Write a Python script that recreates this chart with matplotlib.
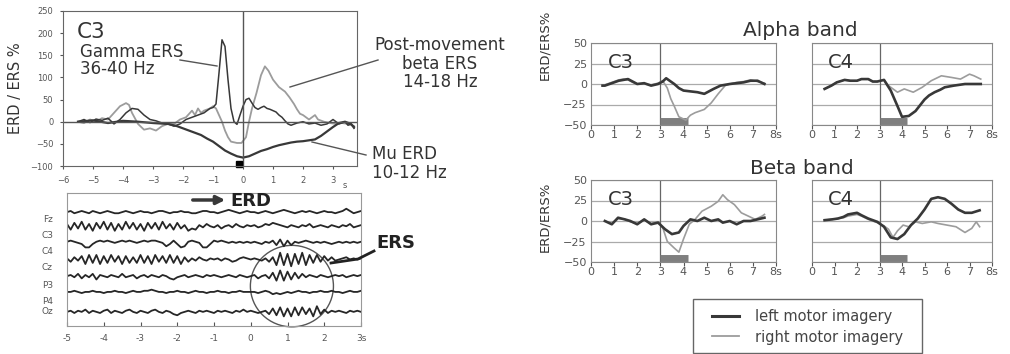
import numpy as np
import matplotlib.pyplot as plt
from matplotlib.patches import Ellipse, Rectangle
from matplotlib.lines import Line2D

W, H = 1010, 354
plt.rcParams['font.family'] = 'DejaVu Sans'

DARK = '#383838'
LIGHT = '#9c9c9c'
TXT = '#333333'
TICK = '#555555'

# ---- top left: ERD/ERS time courses at C3 ----
gamma_t = [-5.5, -5.3, -5.1, -4.9, -4.7, -4.5, -4.3, -4.1, -3.9, -3.7, -3.5, -3.3, -3.1, -2.9, -2.7, -2.5,
           -2.3, -2.1, -1.9, -1.7, -1.5, -1.3, -1.1, -1.0, -0.9, -0.8, -0.7, -0.6, -0.5, -0.4, -0.3, -0.2,
           -0.1, 0.0, 0.1, 0.2, 0.3, 0.4, 0.5, 0.6, 0.7, 0.8, 0.9, 1.0, 1.1, 1.2, 1.3, 1.4, 1.5, 1.6,
           1.8, 2.0, 2.2, 2.4, 2.6, 2.8, 3.0, 3.2, 3.4, 3.5, 3.6, 3.7]
gamma_v = [0, 5, -2, 6, 3, 8, -5, 5, 20, 30, 28, 15, 5, 2, -3, -5,
           -10, -5, 5, 10, 15, 20, 30, 32, 40, 110, 185, 170, 95, 30, 0, -6,
           15, 35, 50, 53, 42, 32, 28, 32, 35, 30, 28, 25, 22, 15, 10, 2, -5, -8,
           -3, 0, -5, -3, -8, -5, 5, -5, 0, -8, -5, -15]

beta_t = [-5.5, -5.3, -5.1, -4.9, -4.7, -4.5, -4.3, -4.1, -3.9, -3.8, -3.7, -3.5, -3.3, -3.1, -2.9, -2.7,
          -2.5, -2.3, -2.1, -1.9, -1.7, -1.6, -1.5, -1.4, -1.3, -1.1, -1.0, -0.9, -0.8, -0.7, -0.6, -0.5,
          -0.4, -0.2, -0.05, 0.1, 0.2, 0.3, 0.45, 0.6, 0.73, 0.85, 1.0, 1.2, 1.4, 1.55, 1.7, 1.8, 1.9,
          2.0, 2.2, 2.4, 2.5, 2.7, 2.9, 3.1, 3.3, 3.5, 3.7]
beta_v = [0, -3, 5, 0, 8, 5, 20, 35, 42, 38, 20, -5, -18, -15, -20, -10,
          -5, -5, 5, 10, 25, 15, 30, 20, 25, 30, 35, 30, 15, 0, -20, -35,
          -45, -48, -48, -35, 0, 30, 65, 105, 125, 115, 95, 78, 68, 55, 40, 28, 18,
          15, 5, 15, 5, 0, -3, -5, -3, -5, -10]

mu_t = [-5.5, -5.0, -4.5, -4.0, -3.5, -3.0, -2.5, -2.2, -2.0, -1.8, -1.6, -1.4, -1.2, -1.0, -0.8, -0.6,
        -0.4, -0.2, 0.0, 0.2, 0.4, 0.6, 0.8, 1.0, 1.2, 1.4, 1.6, 1.8, 2.0, 2.2, 2.4, 2.6, 2.8, 3.0,
        3.2, 3.4, 3.6, 3.7]
mu_v = [0, 3, -3, 2, 0, -3, -5, -10, -15, -20, -25, -30, -38, -45, -55, -65,
        -72, -78, -81, -78, -72, -66, -62, -57, -53, -50, -47, -45, -44, -42, -40, -32, -22, -12,
        -3, 0, -5, -12]

# ---- bottom left: raw EEG, one sample every 0.1 s from -5 to 3 s ----
channels = ['Fz', 'C3', 'C4', 'Cz', 'P3', 'P4', 'Oz']
eeg = {
    'Fz': [0, 1, -1, 0, 1, 0, -1, 1, 0, -1, 0, 1, 0, -1, -1, 0, 1, 0, -1, 0, 1, 0, 0, -1, 0, 1, 1, 0, -1, 0,
           0, 1, 0, 0, -1, -1, 0, 1, 1, 0, 0, -1, 0, 1, 2, 1, 0, -1, 0, 1, 0, 0, -1, 0, 1, 0, -1, 0, 1, 2,
           1, 0, -1, 0, 1, 0, 1, 0, -1, 0, 1, 0, 0, -1, 0, 1, 3, 1, -1, 0, 1],
    'C3': [2, -3, 3, -2, 4, -3, 2, -4, 3, -2, 4, -3, 3, -4, 2, -3, 4, -2, 3, -3, 2, -4, 3, -2, 3, -3, 4, -2, 2, -3,
           3, -2, 1, -4, -2, -3, 1, -1, 2, 0, -1, 1, -2, 0, 1, -1, 2, 0, -1, 1, 0, 1, -1, 0, 2, 1, 3, 2, 1, 0,
           -1, 1, 0, -1, 1, 0, 2, -1, 0, 1, 0, -1, 1, 0, -1, 1, 0, 2, -1, 0, 1],
    'C4': [1, 2, 1, 0, -1, -4, -4, -1, 1, 2, 1, 2, 1, 0, 1, 2, 1, 2, 1, 0, 1, 2, 1, 2, 2, 1, 0, -3, -1, 2,
           -1, -4, -3, 1, 2, 1, 0, -4, -4, -1, 2, 1, 2, 1, 0, 1, 0, 1, 0, 1, 0, 1, 0, -1, 1, 0, 2, -2, 3, -3,
           2, -2, 1, 0, 1, 2, 1, 0, 1, 0, 1, 0, -1, 0, 1, 0, 1, 0, 1, 0, 1],
    'Cz': [1, -2, 2, -1, 3, -4, 4, -3, 4, -4, 3, -3, 4, -2, 3, -4, 3, -3, 2, -3, 4, -3, 3, -4, 4, -2, 3, -3, 4, -3,
           3, -4, 2, -2, 1, -1, 2, 0, -1, 1, 0, 1, -1, 1, 0, -2, -1, 1, 2, 1, 0, 1, 0, -1, 1, -2, 2, -5, 6, -5,
           5, -6, 5, -4, 6, -5, 4, -3, 4, -2, 3, -1, 2, -1, 0, 1, 2, 0, 1, 0, 1],
    'P3': [0, 1, -1, 2, -2, 1, -1, 2, -3, 1, 0, -1, 1, 0, -1, 2, -1, 0, 1, -2, 0, 1, -1, 1, 0, -1, 1, 0, -2, -3,
           -1, 0, 1, -1, 0, 1, 0, -1, 1, 0, 1, 0, -1, 0, 1, 0, -1, 1, 0, -1, 0, 1, -2, 0, 1, -2, 3, -4, 5, -4,
           4, -3, 3, -2, 2, -1, 1, 0, -1, 1, 0, -1, 0, 1, 0, 1, -1, 0, 1, 0, 1],
    'P4': [0, 0, 1, 0, -1, 0, 0, 1, 0, 0, -1, 0, 0, 1, 0, 0, -1, 0, 1, 0, 0, 1, 1, 2, 1, 0, 0, -1, 0, 0,
           1, 0, 0, -1, 0, 1, 0, 0, -1, 0, 0, 1, 0, 0, -1, 0, 0, 1, 0, 0, 0, 0, -1, 0, 1, 0, -2, -1, -2, -1,
           0, -1, 0, 1, 0, 0, -1, 0, 0, 1, 0, 0, 1, 0, 0, -1, 0, 1, 0, 0, 1],
    'Oz': [0, 1, -1, 1, 0, 2, -1, 1, 0, -1, 1, 2, -1, 1, 0, -1, 1, 2, 0, -1, 1, 0, -1, 1, 2, 0, -1, 1, 0, -2,
           -3, -1, 0, 1, 0, -1, 1, 0, 1, 0, -1, 1, 0, 1, 0, -1, 1, 0, 2, 0, 1, 0, -1, 0, 1, -2, 3, -3, 4, -4,
           3, -4, 4, -3, 4, -2, 3, -4, 5, -2, 2, -1, 1, 0, 1, 0, -1, 1, 0, 1, 0],
}
eeg_t = np.linspace(-5, 3, 81)

# ---- right: band power time courses (left / right motor imagery) ----
ac3_l_t = [0.5, 0.6, 0.8, 1.0, 1.2, 1.4, 1.6, 1.8, 2.0, 2.3, 2.6, 2.9, 3.1, 3.25, 3.4, 3.6, 3.8, 4.0, 4.3, 4.6,
           4.9, 5.1, 5.3, 5.6, 6.0, 6.3, 6.6, 6.9, 7.2, 7.5]
ac3_l_v = [-2, -2, 0, 2, 4, 5, 6, 3, 0, 1, -2, 0, 3, 7, 4, 0, -5, -8, -9, -10, -12, -9, -6, -2, 0, 1, 2, 4, 4, 0]
ac3_r_t = [0.5, 0.6, 0.8, 1.0, 1.2, 1.4, 1.6, 1.8, 2.0, 2.3, 2.6, 2.9, 3.1, 3.3, 3.45, 3.6, 3.8, 4.1, 4.3, 4.5,
           4.7, 4.9, 5.2, 5.5, 5.8, 6.0, 6.3, 6.6, 6.9, 7.2, 7.5]
ac3_r_v = [-2, -1, 1, 3, 5, 6, 5, 2, 0, 0, -1, 1, 4, -5, -18, -27, -40, -44, -38, -35,
           -33, -31, -23, -12, -2, 0, 2, 3, 5, 3, 1]

ac4_l_t = [0.56, 0.86, 1.1, 1.45, 1.7, 2.0, 2.2, 2.5, 2.7, 2.9, 3.2, 3.5, 3.8, 4.0, 4.3, 4.6, 5.0, 5.2, 5.45,
           5.7, 5.9, 6.3, 6.8, 7.1, 7.5]
ac4_l_v = [-6, -2, 2, 5, 4, 4, 6, 6, 3, 3, 5, -8, -27, -40, -39, -33, -19, -14, -10, -7, -4, -2, 0, 0, 0]
ac4_r_t = [0.56, 0.86, 1.1, 1.45, 1.7, 2.0, 2.2, 2.5, 2.7, 2.9, 3.2, 3.4, 3.6, 3.8, 4.1, 4.3, 4.5, 4.9, 5.3,
           5.75, 6.2, 6.6, 7.0, 7.2, 7.5]
ac4_r_v = [-6, -2, 2, 5, 4, 4, 6, 6, 3, 3, 5, -2, -6, -10, -6, -8, -10, -4, 4, 10, 8, 6, 12, 10, 6]

bc3_l_t = [0.6, 0.9, 1.17, 1.46, 1.7, 2.0, 2.3, 2.6, 2.9, 3.2, 3.5, 3.8, 4.0, 4.3, 4.6, 4.9, 5.2, 5.5, 5.7,
           6.0, 6.3, 6.6, 6.9, 7.2, 7.5]
bc3_l_v = [0, -4, 4, 2, 0, -4, 2, -4, -2, -10, -16, -14, -6, 2, 0, 4, 0, 2, -2, 0, -4, 0, 0, 2, 4]
bc3_r_t = [0.6, 0.9, 1.17, 1.46, 1.7, 2.0, 2.3, 2.6, 2.9, 3.1, 3.3, 3.6, 3.8, 4.0, 4.25, 4.5, 4.8, 5.2, 5.5,
           5.7, 5.9, 6.2, 6.5, 6.8, 7.1, 7.4, 7.5]
bc3_r_v = [0, -3, 3, 2, -1, -3, 1, -3, -1, -8, -25, -33, -38, -22, -4, 2, 12, 18, 24, 32, 26, 20, 10, 6, 2, 6, 8]

bc4_l_t = [0.56, 0.9, 1.15, 1.4, 1.6, 2.0, 2.2, 2.5, 2.9, 3.2, 3.5, 3.8, 4.1, 4.4, 4.7, 5.0, 5.3, 5.6, 5.9,
           6.2, 6.5, 6.8, 7.1, 7.45]
bc4_l_v = [1, 2, 3, 5, 8, 10, 7, 3, -1, -7, -20, -22, -16, -5, 3, 14, 27, 29, 27, 21, 14, 10, 10, 13]
bc4_r_t = [0.56, 0.9, 1.15, 1.4, 1.6, 2.0, 2.2, 2.5, 2.9, 3.2, 3.4, 3.6, 3.8, 4.05, 4.3, 4.6, 4.9, 5.3, 5.6,
           6.0, 6.4, 6.8, 7.1, 7.3, 7.45]
bc4_r_v = [1, 2, 3, 4, 6, 8, 6, 2, -2, -6, -10, -20, -12, -5, -7, -1, -3, -1, -3, -5, -7, -14, -9, -1, -7]

cue_start, cue_end = 3, 4.2
band_xticklabels = ['0', '1', '2', '3', '4', '5', '6', '7', '8s']


def px_axes(fig, l, t, r, b):
    return fig.add_axes([l / W, 1 - b / H, (r - l) / W, (b - t) / H])


fig = plt.figure(figsize=(W / 100, H / 100), dpi=100)

# top left panel
ax = px_axes(fig, 63, 11, 357, 166)
ax.set_xlim(-6, 3.8)
ax.set_ylim(-100, 250)
ax.plot(beta_t, beta_v, color=LIGHT, lw=1.3)
ax.plot(gamma_t, gamma_v, color=DARK, lw=1.1)
ax.plot(mu_t, mu_v, color=DARK, lw=1.6)
ax.axhline(0, color='#555', lw=1)
ax.axvline(0, color='#555', lw=1)
ax.plot([-0.13], [-96], marker='s', ms=5, color='k', clip_on=False)
ax.set_xticks(range(-6, 4))
ax.set_yticks(range(-100, 251, 50))
ax.tick_params(labelsize=6, colors=TICK, length=2, pad=5)
ax.set_ylabel('ERD / ERS %', fontsize=10.5, color=TXT)
ax.yaxis.set_label_coords(-0.135, 0.5)
for s in ax.spines.values():
    s.set_color('#666')

# EEG panel
ax2 = px_axes(fig, 67, 193, 361, 326)
ax2.set_xlim(-5, 3)
ax2.set_ylim(0, 8)
baselines = [6.85, 6.0, 5.0, 4.0, 3.0, 2.05, 0.85]
for ch, y0 in zip(channels, baselines):
    ax2.plot(eeg_t, y0 + 0.068 * np.array(eeg[ch]), color='#262626', lw=1.3)
ax2.add_patch(Ellipse((1.12, 2.4), 2.26, 4.9, fill=False, ec='#555', lw=1, clip_on=False))
ax2.set_xticks(range(-5, 4))
ax2.set_xticklabels(['-5', '-4', '-3', '-2', '-1', '0', '1', '2', '3s'])
ax2.set_yticks([])
ax2.tick_params(labelsize=6.5, colors=TICK, length=3, direction='in', pad=6)
for s in ax2.spines.values():
    s.set_color('#999')


# right panels
def band_panel(l, t, r, b, lt, lv, rt, rv, name, show_y):
    a = px_axes(fig, l, t, r, b)
    a.set_xlim(0, 8)
    a.set_ylim(-50, 50)
    a.set_yticks([-50, -25, 0, 25, 50])
    a.grid(axis='y', color='#aaa', lw=0.9)
    a.axvline(3, color='#666', lw=0.9)
    a.plot([cue_start, cue_end], [-45, -45], color='#7f7f7f', lw=5, solid_capstyle='butt')
    a.plot(rt, rv, color=LIGHT, lw=1.2)
    a.plot(lt, lv, color=DARK, lw=1.9)
    a.set_xticks(range(9))
    a.set_xticklabels(band_xticklabels)
    a.tick_params(axis='x', labelsize=8, colors=TICK, length=3, pad=0.5)
    a.tick_params(axis='y', labelsize=8, colors=TICK, length=0, pad=3)
    if not show_y:
        a.set_yticklabels([])
    a.text(0.09, 0.88, name, transform=a.transAxes, fontsize=14, color=TXT, va='top')
    for s in a.spines.values():
        s.set_color('#888')
    return a


band_panel(591, 43, 776, 125, ac3_l_t, ac3_l_v, ac3_r_t, ac3_r_v, 'C3', True)
band_panel(812, 43, 992, 125, ac4_l_t, ac4_l_v, ac4_r_t, ac4_r_v, 'C4', False)
band_panel(591, 180, 776, 262, bc3_l_t, bc3_l_v, bc3_r_t, bc3_r_v, 'C3', True)
band_panel(812, 180, 992, 262, bc4_l_t, bc4_l_v, bc4_r_t, bc4_r_v, 'C4', False)

# overlay in pixel coordinates for labels and pointers
ov = fig.add_axes([0, 0, 1, 1])
ov.set_xlim(0, W)
ov.set_ylim(H, 0)
ov.axis('off')
ov.patch.set_visible(False)

ov.text(77, 38, 'C3', fontsize=15.5, color=TXT)
ov.text(80, 57, 'Gamma ERS', fontsize=12, color=TXT)
ov.text(80, 74, '36-40 Hz', fontsize=12, color=TXT)
ov.plot([180, 217], [60, 66], color='#555', lw=1)
ov.text(440, 50, 'Post-movement', fontsize=12, color=TXT, ha='center')
ov.text(440, 69, 'beta ERS', fontsize=12, color=TXT, ha='center')
ov.text(440, 87, '14-18 Hz', fontsize=12, color=TXT, ha='center')
ov.plot([378, 290], [60, 87], color='#555', lw=1)
ov.text(372, 159, 'Mu ERD', fontsize=12, color=TXT)
ov.text(372, 178, '10-12 Hz', fontsize=12, color=TXT)
ov.plot([366, 312], [155, 142], color='#555', lw=1)
ov.text(345, 188, 's', fontsize=6, color=TICK, ha='center')

for ch, yy in zip(channels, [219, 235, 252, 268, 285, 302, 312]):
    ov.text(53, yy, ch, fontsize=6.5, color=TICK, ha='right', va='center')
ov.annotate('', xy=(228, 200), xytext=(190, 200),
            arrowprops=dict(arrowstyle='-|>,head_length=0.5,head_width=0.25', lw=2.5, color=DARK))
ov.text(230, 206, 'ERD', fontsize=13, fontweight='bold', color='#222')
ov.plot([331, 358, 374], [263, 259, 251], color='#222', lw=2)
ov.text(376, 248, 'ERS', fontsize=13, fontweight='bold', color='#222')

ov.text(800, 30, 'Alpha band', fontsize=14.5, color=TXT, ha='center', va='center')
ov.text(802, 168, 'Beta band', fontsize=14.5, color=TXT, ha='center', va='center')
ov.text(545, 45, 'ERD/ERS%', fontsize=9.5, color=TXT, rotation=90, ha='center', va='center')
ov.text(545, 217, 'ERD/ERS%', fontsize=9.5, color=TXT, rotation=90, ha='center', va='center')

# legend: box drawn at its place, entries from the legend machinery
ov.add_patch(Rectangle((693, 299), 229, 54, fill=False, ec='#666', lw=1))
handles = [Line2D([], [], color=DARK, lw=2.2), Line2D([], [], color=LIGHT, lw=1.3)]
leg = fig.legend(handles, ['left motor imagery', 'right motor imagery'], loc='center left',
                 bbox_to_anchor=(700 / W, 1 - 327 / H), fontsize=10.5, frameon=False,
                 handlelength=1.9, handletextpad=1.1, borderpad=0.3, labelspacing=0.35)
for t in leg.get_texts():
    t.set_color('#444')

fig.savefig('out.png', dpi=100)
